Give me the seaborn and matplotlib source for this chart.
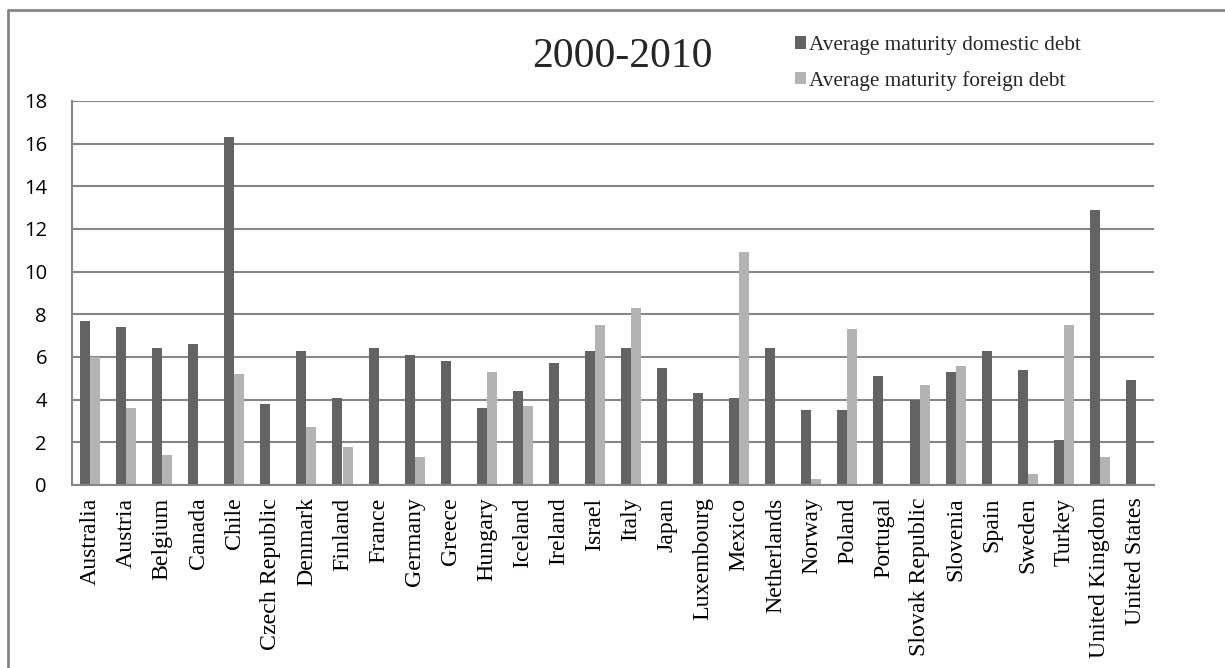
import matplotlib
matplotlib.use("Agg")
import matplotlib.pyplot as plt
from matplotlib.lines import Line2D
import seaborn as sns
import pandas as pd

countries = [
    "Australia", "Austria", "Belgium", "Canada", "Chile", "Czech Republic",
    "Denmark", "Finland", "France", "Germany", "Greece", "Hungary", "Iceland",
    "Ireland", "Israel", "Italy", "Japan", "Luxembourg", "Mexico",
    "Netherlands", "Norway", "Poland", "Portugal", "Slovak Republic",
    "Slovenia", "Spain", "Sweden", "Turkey", "United Kingdom", "United States",
]
domestic = [7.7, 7.4, 6.4, 6.6, 16.3, 3.8, 6.3, 4.1, 6.4, 6.1, 5.8, 3.6, 4.4,
            5.7, 6.3, 6.4, 5.5, 4.3, 4.1, 6.4, 3.5, 3.5, 5.1, 4.0, 5.3, 6.3,
            5.4, 2.1, 12.9, 4.9]
foreign = [6.0, 3.6, 1.4, 0.0, 5.2, 0.0, 2.7, 1.8, 0.0, 1.3, 0.0, 5.3, 3.7,
           0.0, 7.5, 8.3, 0.0, 0.0, 10.9, 0.0, 0.3, 7.3, 0.0, 4.7, 5.6, 0.0,
           0.5, 7.5, 1.3, 0.0]
series_names = ["Average maturity domestic debt", "Average maturity foreign debt"]
yticks = [0, 2, 4, 6, 8, 10, 12, 14, 16, 18]
title = "2000-2010"

df = pd.DataFrame({
    "country": countries * 2,
    "series": [series_names[0]] * len(countries) + [series_names[1]] * len(countries),
    "value": domestic + foreign,
})

sns.set_theme(style="white")
serif = ["Liberation Serif", "DejaVu Serif"]
grid_color = "#868686"

W, H = 1225, 668
fig = plt.figure(figsize=(W / 100, H / 100), dpi=100)
ax = fig.add_axes([72 / W, 1 - 485 / H, (1154 - 72) / W, (485 - 101) / H])

sns.barplot(
    data=df, x="country", y="value", hue="series", order=countries,
    hue_order=series_names, palette=["#636363", "#b3b3b3"],
    width=0.555, gap=0, saturation=1, edgecolor="none", linewidth=0,
    errorbar=None, ax=ax,
)

ax.set_ylim(0, 18)
ax.set_xlim(-0.5, len(countries) - 0.5)
ax.set_yticks(yticks)
ax.set_yticklabels([str(t) for t in yticks], fontfamily="Open Sans", fontsize=14.5)
ax.set_xticks(range(len(countries)))
ax.set_xticklabels(countries, rotation=90, fontfamily=serif, fontsize=17.2,
                   va="top", ha="center")
ax.tick_params(axis="y", length=0, pad=18, colors="black")
ax.tick_params(axis="x", length=0, pad=9, colors="black")
ax.set_xlabel("")
ax.set_ylabel("")

ax.set_axisbelow(True)
ax.yaxis.grid(True, color=grid_color, linewidth=1.5)
ax.xaxis.grid(False)
for side in ["top", "right"]:
    ax.spines[side].set_visible(False)
for side in ["left", "bottom"]:
    ax.spines[side].set_visible(True)
    ax.spines[side].set_color(grid_color)
    ax.spines[side].set_linewidth(1.5)

handles, labels = ax.get_legend_handles_labels()
ax.legend(
    handles, labels, loc="upper left",
    bbox_to_anchor=(795 / W, 1 - 36 / H), bbox_transform=fig.transFigure,
    frameon=False, prop={"family": serif, "size": 15.3},
    handlelength=0.5, handleheight=0.5, handletextpad=0.15,
    labelspacing=0.75, borderpad=0, borderaxespad=0,
)

fig.text(622 / W, 1 - 57 / H, title, ha="center", va="center",
         fontfamily=serif, fontsize=30)

# outer chart frame: top and left edges only, the rest runs off the canvas
top_y = 1 - 10 / H
left_x = 8 / W
fig.add_artist(Line2D([left_x, 1.02], [top_y, top_y], transform=fig.transFigure,
                      color=grid_color, linewidth=2, clip_on=False))
fig.add_artist(Line2D([left_x, left_x], [-0.02, top_y], transform=fig.transFigure,
                      color=grid_color, linewidth=2, clip_on=False))

fig.savefig("out.png", dpi=100, facecolor="white")
